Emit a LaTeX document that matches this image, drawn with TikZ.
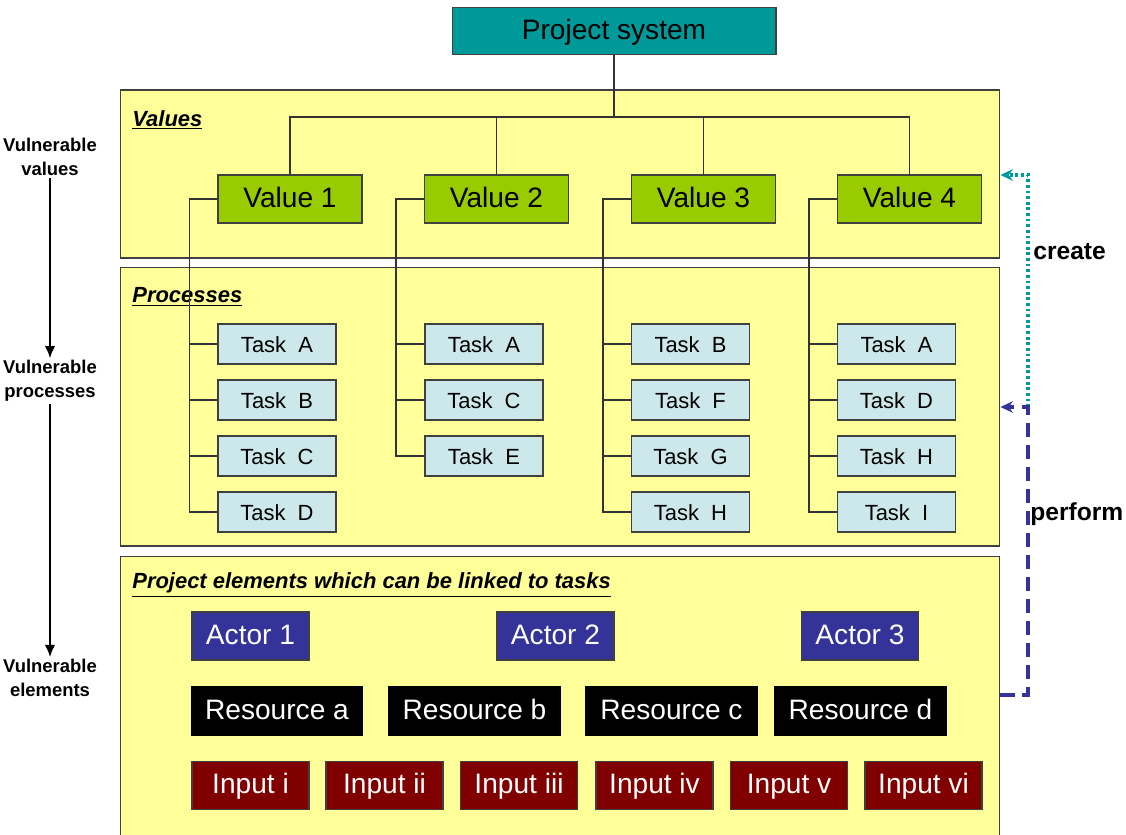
\documentclass[tikz,border=0pt]{standalone}
\usepackage{fontspec}
\setmainfont{Liberation Sans}
\usetikzlibrary{arrows.meta}

\definecolor{panelyellow}{HTML}{FFFF99}
\definecolor{projteal}{HTML}{009999}
\definecolor{valuegreen}{HTML}{99CC00}
\definecolor{taskblue}{HTML}{CCE8EA}
\definecolor{actorblue}{HTML}{333399}
\definecolor{inputred}{HTML}{800000}
\definecolor{framegray}{HTML}{404040}

\tikzset{
	box/.style={draw=framegray, line width=0.6pt, inner sep=0, text height=0.95em, text depth=0em},
	panel/.style={box, fill=panelyellow, minimum width=17.6cm},
	projbox/.style={box, fill=projteal, minimum width=6.48cm, minimum height=0.94cm, font=\fontsize{16}{19}\selectfont},
	valuebox/.style={box, fill=valuegreen, minimum width=2.88cm, minimum height=0.96cm, font=\fontsize{16}{19}\selectfont},
	taskbox/.style={box, fill=taskblue, minimum width=2.36cm, minimum height=0.8cm, font=\fontsize{12.5}{15}\selectfont},
	actorbox/.style={box, fill=actorblue, text=white, minimum width=2.34cm, minimum height=0.96cm, font=\fontsize{16}{19}\selectfont},
	resbox/.style={box, draw=black, fill=black, text=white, minimum width=3.42cm, minimum height=0.96cm, font=\fontsize{16}{19}\selectfont},
	inputbox/.style={box, fill=inputred, text=white, minimum width=2.34cm, minimum height=0.97cm, font=\fontsize{16}{19}\selectfont},
	paneltitle/.style={anchor=west, inner sep=0, font=\fontsize{12.5}{15}\selectfont\bfseries\itshape},
	sidelabel/.style={align=center, inner sep=1pt, font=\fontsize{10.5}{13.5}\selectfont\bfseries},
	sidenote/.style={anchor=west, inner sep=0, font=\fontsize{14}{17}\selectfont\bfseries},
	wire/.style={draw=black!80, line width=0.6pt},
	flow/.style={line width=1.5pt, -{Latex[length=7pt,width=6pt]}},
	createline/.style={draw=projteal, line width=1.8pt, dash pattern=on 1.6pt off 1.6pt, -{Stealth[length=7pt,width=6.5pt]}},
	performline/.style={draw=actorblue, line width=1.8pt, dash pattern=on 8pt off 4.5pt, -{Stealth[length=7pt,width=6.5pt]}}
}

\begin{document}
\begin{tikzpicture}[x=0.02cm, y=-0.02cm]
	% Panels and titles:
	\useasboundingbox (0,0) rectangle (1126,835);
	\node[panel, minimum height=3.36cm] (valpanel) at (560,174) {};
	\node[panel, minimum height=5.58cm] (procpanel) at (560,406.5) {};
	\node[panel, minimum height=5.7cm] (elempanel) at (560,698.5) {};
	\node[paneltitle] (valtitle) at (132,120) {\underline{Values}};
	\node[paneltitle] (proctitle) at (132,297) {\underline{Processes}};
	\node[paneltitle] (elemtitle) at (132,585) {\underline{Project elements which can be linked to tasks}};

	% Project system and values:
	\node[projbox] (proj) at (614,31) {Project system};
	\foreach \v/\x in {1/290, 2/496.5, 3/703.5, 4/909.5}
		\node[valuebox] (val\v) at (\x,199) {Value \v};
	\draw[wire] (proj.south) -- ++(0,62) coordinate (bus);
	\foreach \v in {1,...,4}
		\draw[wire] (bus) -| (val\v.north);

	% Tasks:
	\foreach \c/\x/\list in {1/277/{A,B,C,D}, 2/484/{A,C,E}, 3/690.5/{B,F,G,H}, 4/896.5/{A,D,H,I}} {
		\foreach \t [count=\i] in \list {
			\node[taskbox] (t\c\i) at (\x,288+56*\i) {Task~~\t};
			\draw[wire] (t\c\i.west) -- ++(-28,0);
		}
	}
	\draw[wire] (val1.west) -- ++(-28,0) |- (t14.west);
	\draw[wire] (val2.west) -- ++(-28,0) |- (t23.west);
	\draw[wire] (val3.west) -- ++(-28,0) |- (t34.west);
	\draw[wire] (val4.west) -- ++(-28,0) |- (t44.west);

	% Project elements:
	\foreach \a/\x in {1/250.5, 2/555.5, 3/860}
		\node[actorbox] (act\a) at (\x,636) {Actor \a};
	\foreach \r/\x in {a/277, b/474.5, c/671.5, d/860.5}
		\node[resbox] (res\r) at (\x,711) {Resource \r};
	\foreach \n/\x in {i/250.5, ii/384.5, iii/519, iv/654.5, v/789, vi/923.5}
		\node[inputbox] (in\n) at (\x,785.5) {Input \n};

	% Left side:
	\node[sidelabel] (vval) at (50,157) {Vulnerable\\values};
	\node[sidelabel] (vproc) at (50,381) {Vulnerable\\processes};
	\node[sidelabel] (velem) at (50,678) {Vulnerable\\elements};
	\draw[flow] (vval) -- (vproc);
	\draw[flow] (vproc) -- (velem);

	% Right side:
	\coordinate (cturn) at (1028,175);
	\coordinate (pturn) at (1028,407);
	\coordinate (pbase) at (1028,695);
	\draw[createline] (pturn) -- (cturn) -- (valpanel.east |- cturn);
	\draw[performline] (elempanel.east |- pbase) -- (pbase) -- (pturn) -- (procpanel.east |- pturn);
	\node[sidenote] (create) at (1033,252) {create};
	\node[sidenote] (perform) at (1030,514) {perform};
\end{tikzpicture}
\end{document}
